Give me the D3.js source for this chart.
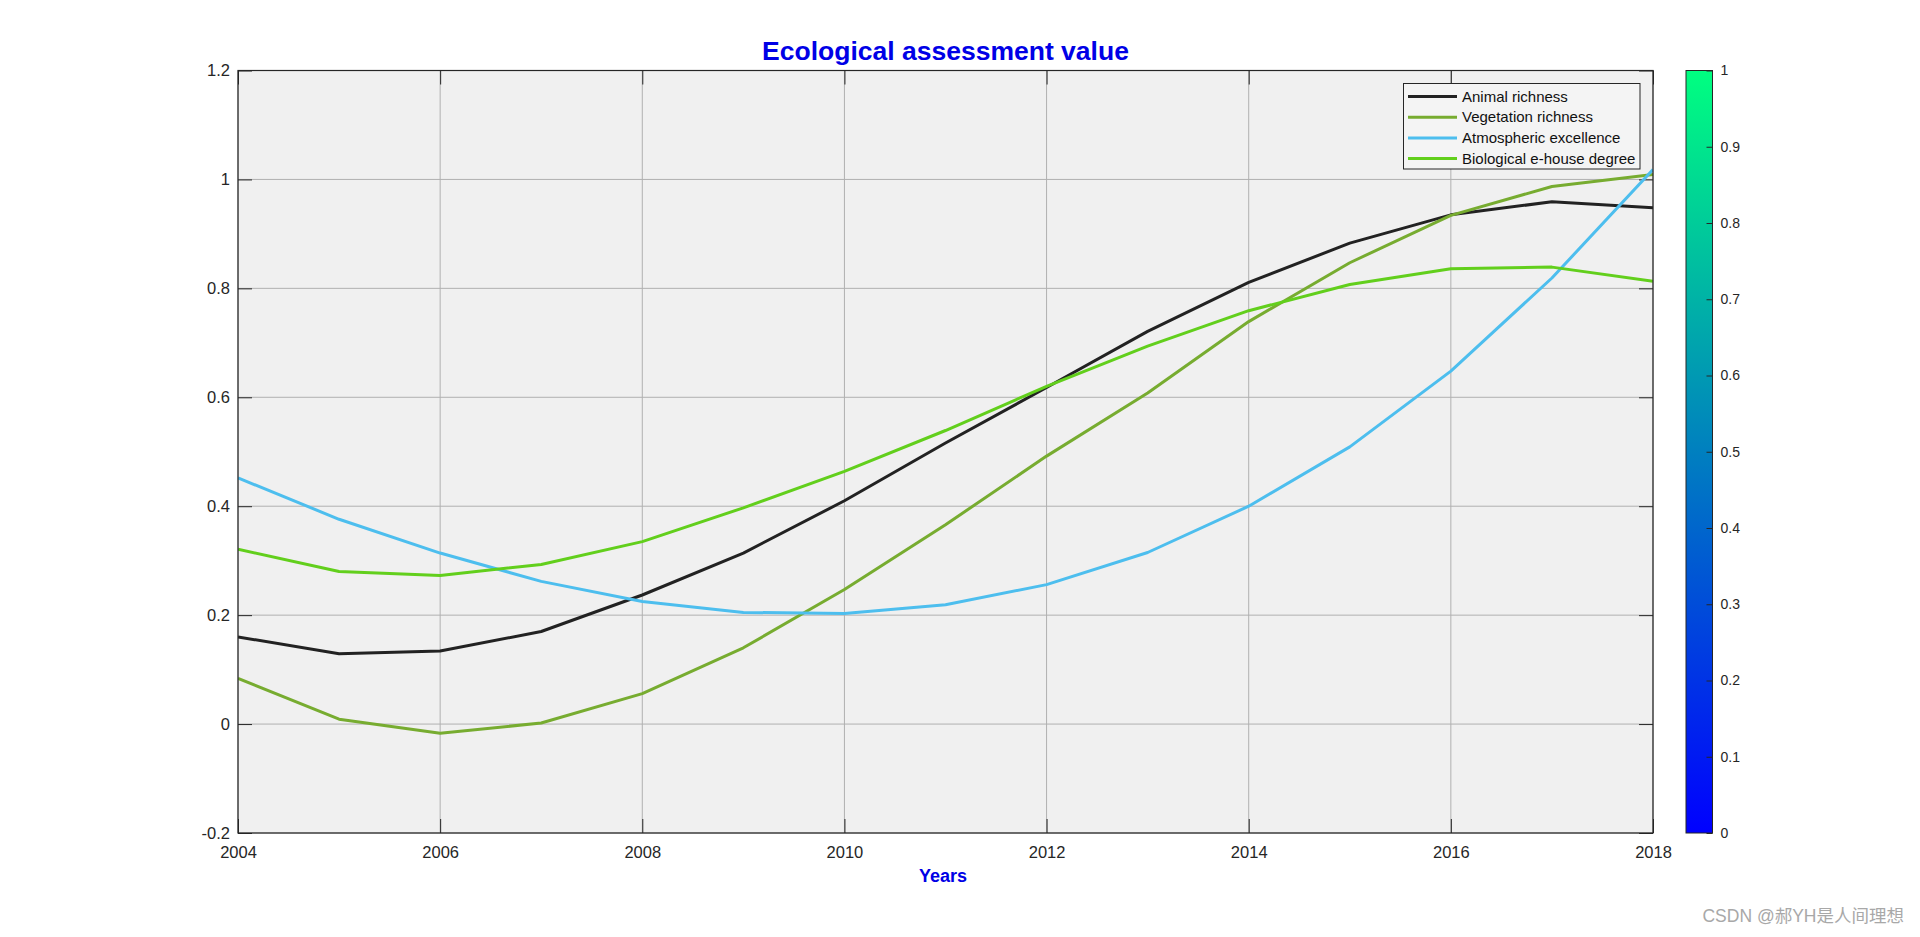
<!DOCTYPE html>
<html><head><meta charset="utf-8">
<script src="https://cdn.jsdelivr.net/npm/d3@7"></script>
<style>body{margin:0;background:#fff;}svg{display:block;font-family:"Liberation Sans",Arial,sans-serif;}</style>
</head><body>
<svg id="c" width="1920" height="937"></svg>
<script>
const years = [2004,2005,2006,2007,2008,2009,2010,2011,2012,2013,2014,2015,2016,2017,2018];
const animalRichness = [0.160,0.129,0.134,0.170,0.237,0.314,0.410,0.516,0.618,0.721,0.811,0.883,0.935,0.959,0.948];
const vegetationRichness = [0.084,0.009,-0.017,0.002,0.056,0.140,0.247,0.366,0.492,0.608,0.739,0.847,0.934,0.987,1.009];
const atmosphericExcellence = [0.452,0.376,0.314,0.262,0.225,0.205,0.203,0.219,0.256,0.315,0.400,0.509,0.648,0.819,1.018];
const biologicalDegree = [0.321,0.280,0.273,0.293,0.335,0.397,0.464,0.539,0.620,0.694,0.759,0.807,0.836,0.839,0.813];
const seriesNames = ["Animal richness","Vegetation richness","Atmospheric excellence","Biological e-house degree"];
const seriesColors = ["#222222","#77ac30","#4dbeee","#62cf1c"];
const yTicks = [-0.2,0,0.2,0.4,0.6,0.8,1,1.2];
const xTicks = [2004,2006,2008,2010,2012,2014,2016,2018];
const cbTicks = [0,0.1,0.2,0.3,0.4,0.5,0.6,0.7,0.8,0.9,1];

const svg = d3.select("#c");
const L=238, R=1653, T=70.5, B=833;
const x = d3.scaleLinear().domain([2004,2018]).range([L,R]);
const y = d3.scaleLinear().domain([-0.2,1.2]).range([B,T]);
const axisCol = "#262626";
const fmt = d => String(+d.toFixed(1));

svg.append("rect").attr("x",L).attr("y",T).attr("width",R-L).attr("height",B-T).attr("fill","#f0f0f0");

// grid
svg.append("g").selectAll("line").data(xTicks).join("line")
  .attr("x1",d=>x(d)).attr("x2",d=>x(d)).attr("y1",T).attr("y2",B)
  .attr("stroke","#b0b0b0").attr("stroke-width",1);
svg.append("g").selectAll("line").data(yTicks).join("line")
  .attr("y1",d=>y(d)).attr("y2",d=>y(d)).attr("x1",L).attr("x2",R)
  .attr("stroke","#b0b0b0").attr("stroke-width",1);

function styleAxis(g){
  g.select(".domain").remove();
  g.selectAll(".tick line").attr("stroke",axisCol).attr("stroke-width",1);
  g.selectAll(".tick text").attr("fill",axisCol).style("font-size","16.5px").style("font-family","'Liberation Sans',Arial,sans-serif");
}
svg.append("g").attr("transform",`translate(0,${B})`)
  .call(d3.axisBottom(x).tickValues(xTicks).tickFormat(d3.format("d")).tickSizeInner(-14).tickPadding(13))
  .call(styleAxis);
svg.append("g").attr("transform",`translate(0,${T})`)
  .call(d3.axisTop(x).tickValues(xTicks).tickFormat("").tickSizeInner(-14))
  .call(styleAxis);
svg.append("g").attr("transform",`translate(${L},0)`)
  .call(d3.axisLeft(y).tickValues(yTicks).tickFormat(fmt).tickSizeInner(-14).tickPadding(8))
  .call(styleAxis);
svg.append("g").attr("transform",`translate(${R},0)`)
  .call(d3.axisRight(y).tickValues(yTicks).tickFormat("").tickSizeInner(-14))
  .call(styleAxis);

// lines
const allSeries = [animalRichness,vegetationRichness,atmosphericExcellence,biologicalDegree];
const line = d3.line().x((d,i)=>x(years[i])).y(d=>y(d));
svg.append("clipPath").attr("id","pc").append("rect").attr("x",L).attr("y",T).attr("width",R-L).attr("height",B-T);
allSeries.forEach((s,k)=>{
  svg.append("path").datum(s).attr("d",line).attr("fill","none")
    .attr("stroke",seriesColors[k]).attr("stroke-width",3).attr("stroke-linejoin","round")
    .attr("clip-path","url(#pc)");
});

svg.append("rect").attr("x",L).attr("y",T).attr("width",R-L).attr("height",B-T)
  .attr("fill","none").attr("stroke",axisCol).attr("stroke-width",1.2);

// legend
const lg = svg.append("g");
lg.append("rect").attr("x",1403.5).attr("y",83.5).attr("width",236.5).attr("height",85.5)
  .attr("fill","#f4f4f4").attr("stroke",axisCol).attr("stroke-width",1);
seriesNames.forEach((n,k)=>{
  const yy = 96.5 + k*20.7;
  lg.append("line").attr("x1",1408).attr("x2",1457).attr("y1",yy).attr("y2",yy)
    .attr("stroke",seriesColors[k]).attr("stroke-width",3);
  lg.append("text").attr("x",1462).attr("y",yy+5.2).text(n)
    .attr("fill","#111").style("font-size","15px");
});

// title & label
svg.append("text").attr("x",(L+R)/2).attr("y",60).attr("text-anchor","middle")
  .style("font-size","26.5px").style("font-weight","bold").attr("fill","#0000e6")
  .text("Ecological assessment value");
svg.append("text").attr("x",943).attr("y",881.5).attr("text-anchor","middle")
  .style("font-size","18px").style("font-weight","bold").attr("fill","#0000e6")
  .text("Years");

// colorbar (winter colormap)
const cbL=1686, cbR=1712.5;
const cy = d3.scaleLinear().domain([0,1]).range([B,T]);
const grad = svg.append("defs").append("linearGradient").attr("id","cbg").attr("x1",0).attr("x2",0).attr("y1",1).attr("y2",0);
grad.append("stop").attr("offset","0%").attr("stop-color","rgb(0,0,255)");
grad.append("stop").attr("offset","100%").attr("stop-color","rgb(0,255,128)");
svg.append("rect").attr("x",cbL).attr("y",T).attr("width",cbR-cbL).attr("height",B-T).attr("fill","url(#cbg)");
const cbAxis = svg.append("g").attr("transform",`translate(${cbR},0)`)
  .call(d3.axisRight(cy).tickValues(cbTicks).tickFormat(fmt).tickSizeInner(-6).tickPadding(8));
cbAxis.select(".domain").remove();
cbAxis.selectAll(".tick line").attr("stroke",axisCol);
cbAxis.selectAll(".tick text").attr("fill",axisCol).style("font-size","14px").style("font-family","'Liberation Sans',Arial,sans-serif");
svg.append("rect").attr("x",cbL).attr("y",T).attr("width",cbR-cbL).attr("height",B-T)
  .attr("fill","none").attr("stroke",axisCol).attr("stroke-width",1);

// watermark
svg.append("text").attr("x",1904).attr("y",922).attr("text-anchor","end")
  .style("font-size","17.5px").style("font-family","'Liberation Sans','Noto Sans CJK SC',sans-serif")
  .attr("fill","#a8a8a8").text("CSDN @郝YH是人间理想");
</script>
</body></html>
